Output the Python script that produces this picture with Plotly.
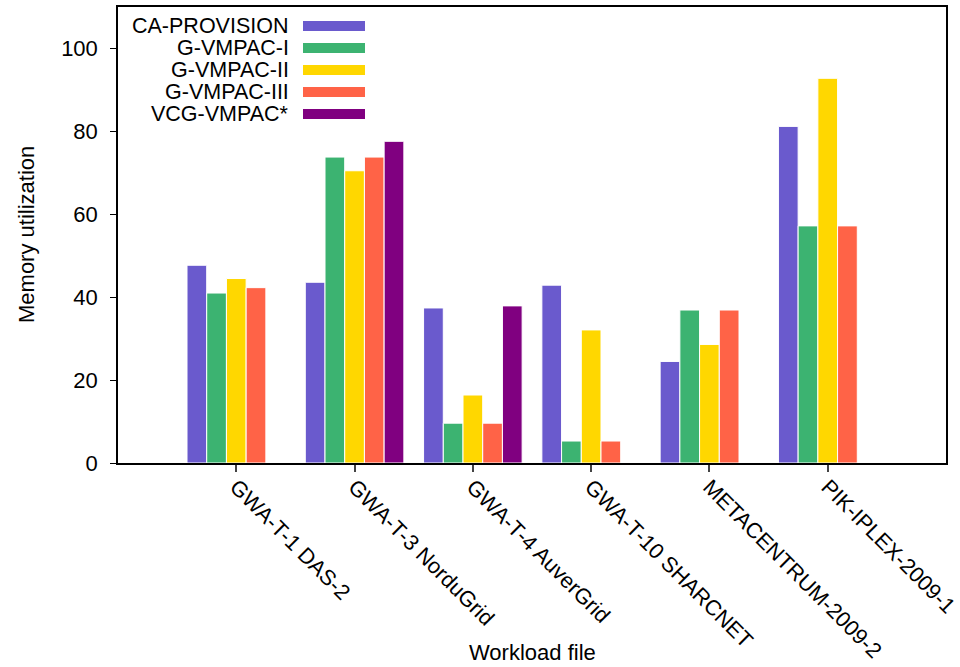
import plotly.graph_objects as go

# Workload files on the x axis
workloads = [
    "GWA-T-1 DAS-2",
    "GWA-T-3 NorduGrid",
    "GWA-T-4 AuverGrid",
    "GWA-T-10 SHARCNET",
    "METACENTRUM-2009-2",
    "PIK-IPLEX-2009-1",
]

# Memory utilization per algorithm (None = no result for that workload)
ca_provision = [47.7, 43.6, 37.4, 42.9, 24.5, 81.2]
g_vmpac_1 = [41.0, 73.8, 9.6, 5.3, 36.9, 57.2]
g_vmpac_2 = [44.5, 70.5, 16.4, 32.1, 28.6, 92.8]
g_vmpac_3 = [42.3, 73.8, 9.6, 5.3, 36.9, 57.2]
vcg_vmpac = [None, 77.6, 37.9, None, None, None]

series = [
    ("CA-PROVISION", ca_provision, "#6A5ACD"),
    ("G-VMPAC-I", g_vmpac_1, "#3CB371"),
    ("G-VMPAC-II", g_vmpac_2, "#FFD700"),
    ("G-VMPAC-III", g_vmpac_3, "#FF6347"),
    ("VCG-VMPAC*", vcg_vmpac, "#800080"),
]

FONT = "Liberation Sans, Arial, sans-serif"
FS = 22
LEGEND_FS = 21.5
XTICK_FS = 21.7

W, H = 960, 667
ML, MR, MT, MB = 118, 14, 7, 204
PW, PH = W - ML - MR, H - MT - MB

fig = go.Figure()
for name, vals, color in series:
    fig.add_trace(go.Bar(
        name=name, x=workloads, y=vals,
        marker=dict(color=color, line=dict(color="white", width=1)),
        showlegend=False,
    ))


def px_x(p):
    return (p - ML) / PW


def px_y(p):
    return (H - MB - p) / PH


# Legend drawn inside the plot: right-aligned label followed by a colour swatch
shapes = []
annotations = []
for i, (name, _, color) in enumerate(series):
    cy = 26 + 22 * i
    annotations.append(dict(
        x=px_x(291), y=px_y(cy), xref="paper", yref="paper",
        text=name, showarrow=False, xanchor="right", yanchor="middle",
        font=dict(family=FONT, size=LEGEND_FS, color="black"),
    ))
    shapes.append(dict(
        type="rect", xref="paper", yref="paper",
        x0=px_x(303), x1=px_x(365), y0=px_y(cy - 5), y1=px_y(cy + 5),
        fillcolor=color, line=dict(width=0),
    ))

# Axis titles
annotations.append(dict(
    x=0.5, y=px_y(652), xref="paper", yref="paper", text="Workload file",
    showarrow=False, xanchor="center", yanchor="middle",
    font=dict(family=FONT, size=FS, color="black"),
))
annotations.append(dict(
    x=px_x(26), y=0.5, xref="paper", yref="paper", text="Memory utilization",
    showarrow=False, xanchor="center", yanchor="middle", textangle=-90,
    font=dict(family=FONT, size=FS, color="black"),
))

fig.update_layout(
    width=W, height=H,
    margin=dict(l=ML, r=MR, t=MT, b=MB),
    paper_bgcolor="white", plot_bgcolor="white",
    barmode="group", bargap=1 / 6, bargroupgap=0,
    font=dict(family=FONT, size=FS, color="black"),
    shapes=shapes, annotations=annotations,
)
fig.update_xaxes(
    type="category", range=[-1, 6], tickangle=45, automargin=False,
    showline=True, linecolor="black", linewidth=1.5, mirror=True,
    ticks="outside", ticklen=7, tickcolor="#444", tickwidth=1.5,
    ticklabelstandoff=-6,
    showgrid=False, zeroline=False,
    tickfont=dict(family=FONT, size=XTICK_FS, color="black"),
)
fig.update_yaxes(
    range=[0, 110], tickvals=[0, 20, 40, 60, 80, 100], automargin=False,
    showline=True, linecolor="black", linewidth=1.5, mirror=True,
    ticks="outside", ticklen=6, tickcolor="black", tickwidth=1,
    ticklabelstandoff=8,
    showgrid=False, zeroline=False,
    tickfont=dict(family=FONT, size=FS, color="black"),
)

fig.write_html("out.html")
